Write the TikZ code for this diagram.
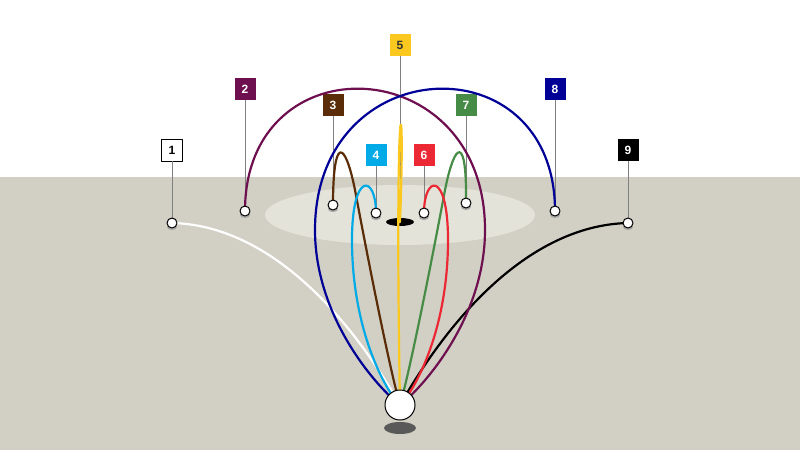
\documentclass[tikz,border=0pt]{standalone}
\usepackage{fontspec}
\setmainfont{Liberation Sans}
\usetikzlibrary{positioning,calc}
\definecolor{ground}{RGB}{210,208,196}
\definecolor{cgreenfield}{RGB}{228,227,218}
\definecolor{cpurple}{RGB}{110,16,80}
\definecolor{cbrown}{RGB}{90,44,8}
\definecolor{ccyan}{RGB}{0,170,230}
\definecolor{cyellow}{RGB}{250,200,30}
\definecolor{cred}{RGB}{236,40,52}
\definecolor{cgreen}{RGB}{70,140,70}
\definecolor{cnavy}{RGB}{0,0,150}
\tikzset{
  tag/.style={minimum width=21pt,minimum height=22pt,inner sep=0pt,font=\bfseries\large,text=white},
  stake/.style={draw=gray,line width=0.5pt},
  spot/.style={circle,draw=black,fill=white,line width=1pt,minimum size=10pt,inner sep=0pt},
  shot/.style={line width=2.2pt}
}
\begin{document}
\begin{tikzpicture}[x=1pt,y=-1pt,line cap=round,line join=round]
\useasboundingbox (0,0) rectangle (800,450);
\fill[ground] (0,177) rectangle (800,450);
\fill[cgreenfield] (400,215) ellipse (135 and 30);
\fill[black] (400,222) ellipse (14 and 4);
% targets
\foreach \n/\x/\y in {p1/172/223,p2/245/211,p3/333/205,p4/376/213,p6/424/213,p7/466/203,p8/555/211,p9/628/223}
  \coordinate (\n) at (\x,\y);
\coordinate (p5) at (400,222);
\coordinate (ball) at (400,405);
% tags
\node[tag,fill=white,draw=black,text=black] (t1) at (172,150) {1};
\node[tag,fill=cpurple] (t2) at (245,89) {2};
\node[tag,fill=cbrown] (t3) at (333,105) {3};
\node[tag,fill=ccyan] (t4) at (376,155) {4};
\node[tag,fill=cyellow,text=black!80] (t5) at (400,45) {5};
\node[tag,fill=cred] (t6) at (424,155) {6};
\node[tag,fill=cgreen] (t7) at (466,105) {7};
\node[tag,fill=cnavy] (t8) at (555,89) {8};
\node[tag,fill=black] (t9) at (628,150) {9};
\foreach \i in {1,2,3,4,5,6,7,8,9}
  \draw[stake] (t\i.south) -- (p\i);
% shots
\draw[shot,white] (p1) .. controls (260,225) and (340,300) .. (ball);
\draw[shot,black] (p9) .. controls (540,225) and (460,300) .. (ball);
\draw[shot,cpurple] (p2) .. controls (245,40) and (485,50) .. (485,230) .. controls (485,320) and (420,390) .. (ball);
\draw[shot,cnavy] (p8) .. controls (555,40) and (315,50) .. (315,230) .. controls (315,320) and (380,390) .. (ball);
\draw[shot,cbrown] (p3) .. controls (333,135) and (345,140) .. (355,190) .. controls (370,270) and (390,370) .. (ball);
\draw[shot,cgreen] (p7) .. controls (467,135) and (455,140) .. (445,190) .. controls (430,270) and (410,370) .. (ball);
\draw[shot,ccyan] (p4) .. controls (376,175) and (352,170) .. (352,240) .. controls (352,330) and (385,390) .. (ball);
\draw[shot,cred] (p6) .. controls (424,175) and (448,170) .. (448,240) .. controls (448,330) and (415,390) .. (ball);
\draw[shot,cyellow] (p5) .. controls (406,70) and (394,70) .. (ball);
% spots
\foreach \i in {1,2,3,4,6,7,8,9}{
  \fill[gray!70] ($(p\i)+(0,4)$) ellipse (5 and 3);
  \node[spot] at (p\i) {};
}
\fill[gray!70!black] (400,428) ellipse (16 and 6);
\node[circle,draw=black,fill=white,line width=1pt,minimum size=30pt,inner sep=0pt] (b) at (ball) {};
\end{tikzpicture}
\end{document}
